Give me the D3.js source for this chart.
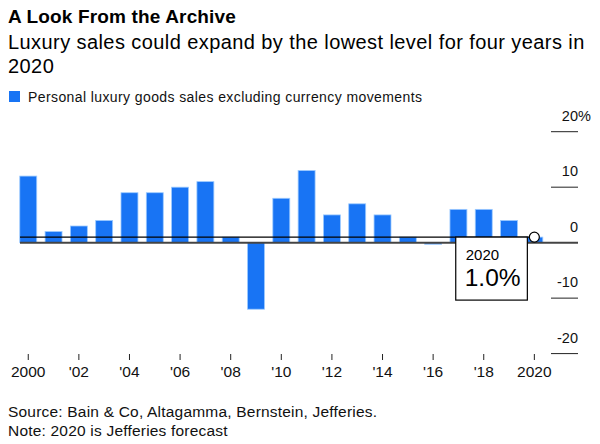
<!DOCTYPE html>
<html>
<head>
<meta charset="utf-8">
<script src="https://cdn.jsdelivr.net/npm/d3@7"></script>
<style>
  html, body { margin: 0; padding: 0; background: #fff; }
  svg { display: block; font-family: "Liberation Sans", Arial, Helvetica, sans-serif; }
</style>
</head>
<body>
<svg id="chart" width="600" height="444"></svg>
<script>
// ---- data ----
const years = [2000, 2001, 2002, 2003, 2004, 2005, 2006, 2007, 2008, 2009, 2010,
               2011, 2012, 2013, 2014, 2015, 2016, 2017, 2018, 2019, 2020];
const growth = [12, 2, 3, 4, 9, 9, 10, 11, 1, -12, 8,
                13, 5, 7, 5, 1, -0.3, 6, 6, 4, 1.0];
const xTickYears = [2000, 2002, 2004, 2006, 2008, 2010, 2012, 2014, 2016, 2018, 2020];
const xTickLabels = ["2000", "'02", "'04", "'06", "'08", "'10", "'12", "'14", "'16", "'18", "2020"];
const yTicks = [20, 10, 0, -10, -20];
const yTickLabels = ["20%", "10", "0", "-10", "-20"];
const titleText = "A Look From the Archive";
const subtitleLines = ["Luxury sales could expand by the lowest level for four years in", "2020"];
const legendText = "Personal luxury goods sales excluding currency movements";
const footerLines = ["Source: Bain & Co, Altagamma, Bernstein, Jefferies.", "Note: 2020 is Jefferies forecast"];
const highlightYear = 2020;
const highlightLabel = "1.0%";

// ---- layout ----
const svg = d3.select("#chart");
const blue = "#1874f4";

const y = d3.scaleLinear().domain([-20, 20]).range([353.6, 131.7]);
const xBand = d3.scaleBand().domain(years).range([15.6, 547]).paddingInner(0.33).paddingOuter(0.165);
const xc = d => xBand(d) + xBand.bandwidth() / 2;

// header
svg.append("text").attr("x", 8).attr("y", 23)
  .attr("font-size", 19).attr("font-weight", "bold").attr("letter-spacing", 0.15)
  .attr("fill", "#000").text(titleText);
svg.selectAll("text.sub").data(subtitleLines).join("text").attr("class", "sub")
  .attr("x", 8).attr("y", (d, i) => 49 + i * 24)
  .attr("font-size", 20).attr("letter-spacing", 0.42)
  .attr("fill", "#000").text(d => d);

// legend
svg.append("rect").attr("x", 9).attr("y", 91).attr("width", 11).attr("height", 11).attr("fill", blue);
svg.append("text").attr("x", 28).attr("y", 101.5).attr("font-size", 14).attr("letter-spacing", 0.4)
  .attr("fill", "#111").text(legendText);

// y axis (right)
const yg = svg.append("g");
yg.selectAll("line").data(yTicks).join("line")
  .attr("x1", 551).attr("x2", 578)
  .attr("y1", d => y(d)).attr("y2", d => y(d))
  .attr("stroke", d => d === 0 ? "none" : "#222").attr("stroke-width", 1);
yg.selectAll("text").data(yTicks).join("text")
  .attr("x", 578).attr("y", d => y(d) - 11)
  .attr("font-size", 14.5).attr("fill", "#111")
  .attr("text-anchor", "end")
  .text((d, i) => yTickLabels[i].replace("%", ""));
yTickLabels.forEach((lab, i) => {
  if (lab.endsWith("%")) {
    svg.append("text").attr("x", 578).attr("y", y(yTicks[i]) - 11)
      .attr("font-size", 14.5).attr("fill", "#111").text("%");
  }
});

// bars
svg.append("g").selectAll("rect").data(years).join("rect")
  .attr("x", d => xBand(d))
  .attr("width", xBand.bandwidth())
  .attr("y", (d, i) => y(Math.max(0, growth[i])))
  .attr("height", (d, i) => Math.abs(y(growth[i]) - y(0)))
  .attr("fill", (d, i) => Math.abs(growth[i]) < 0.5 ? "#5a9bf0" : blue)
  .attr("stroke", "#9ccaff").attr("stroke-width", 0.8);

// zero line
svg.append("line").attr("x1", 20).attr("x2", 578).attr("y1", y(0)).attr("y2", y(0))
  .attr("stroke", "#444").attr("stroke-width", 2);

// reference line at highlight value
const hv = growth[years.indexOf(highlightYear)];
const hx = xc(highlightYear);
svg.append("line").attr("x1", 20).attr("x2", hx).attr("y1", y(hv)).attr("y2", y(hv))
  .attr("stroke", "#000").attr("stroke-width", 1.2);

// annotation box
const boxW = 71.6, boxH = 63;
const bx = hx - 7 - boxW, by = y(hv);
svg.append("rect").attr("x", bx).attr("y", by).attr("width", boxW).attr("height", boxH)
  .attr("fill", "#fff").attr("stroke", "#000").attr("stroke-width", 1.2);
svg.append("text").attr("x", bx + 10).attr("y", by + 23).attr("font-size", 15).attr("fill", "#000").text(highlightYear);
svg.append("text").attr("x", bx + 9).attr("y", by + 49).attr("font-size", 24.5).attr("fill", "#000").text(highlightLabel);
svg.append("circle").attr("cx", hx).attr("cy", y(hv)).attr("r", 5)
  .attr("fill", "#fff").attr("stroke", "#000").attr("stroke-width", 1.2);

// x axis
const xg = svg.append("g");
xg.selectAll("line").data(xTickYears).join("line")
  .attr("x1", d => xc(d)).attr("x2", d => xc(d))
  .attr("y1", 354).attr("y2", 360).attr("stroke", "#222").attr("stroke-width", 1);
xg.selectAll("text").data(xTickYears).join("text")
  .attr("x", d => xc(d)).attr("y", 377)
  .attr("text-anchor", "middle").attr("font-size", 15.5).attr("fill", "#111")
  .text((d, i) => xTickLabels[i]);

// footer
svg.selectAll("text.foot").data(footerLines).join("text").attr("class", "foot")
  .attr("x", 8).attr("y", (d, i) => 417 + i * 19)
  .attr("font-size", 15.5).attr("letter-spacing", 0.2).attr("fill", "#111").text(d => d);
</script>
</body>
</html>
